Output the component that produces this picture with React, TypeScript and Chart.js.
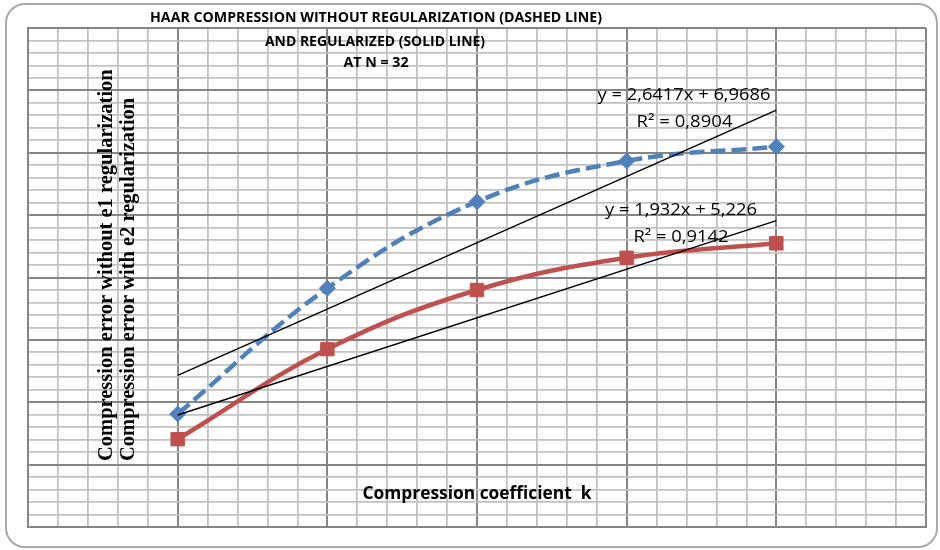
import React, { useEffect, useRef } from "react";
import { Chart, registerables } from "chart.js";

Chart.register(...registerables);

// ---- data ----
const kValues = [1, 2, 3, 4, 5];
const errorWithoutReg = [4.53, 9.57, 13.04, 14.67, 15.24];
const errorWithReg = [3.52, 7.13, 9.5, 10.79, 11.37];
const trendK = [1, 5];
const trendWithoutReg = [6.08, 16.71];
const trendWithReg = [4.49, 12.28];

const titleLines = [
  "HAAR COMPRESSION WITHOUT REGULARIZATION (DASHED LINE)",
  "AND REGULARIZED (SOLID LINE)",
  "AT N = 32",
];
const yTitleLines = [
  "Compression error without e1 regularization",
  "Compression error with e2 regularization",
];
const xTitle = "Compression coefficient  k";
const trendLabelsWithout = ["y = 2,6417x + 6,9686", "R² = 0,8904"];
const trendLabelsWith = ["y = 1,932x + 5,226", "R² = 0,9142"];

const xRange = [0, 6];
const xMinorStep = 0.2;
const xMajorStep = 1;
const yRange = [0, 20];
const yMinorStep = 0.5;
const yMajorStep = 2.5;

// ---- styles ----
const MAJOR = "#868686";
const MINOR = "#c2c2c2";
const BLUE = "#4f81bd";
const RED = "#c0504d";

const isMajor = (v: number, step: number) =>
  Math.abs(v / step - Math.round(v / step)) < 1e-6;

function fitText(
  ctx: CanvasRenderingContext2D,
  text: string,
  cx: number,
  baseline: number,
  font: string,
  width: number
) {
  ctx.save();
  ctx.font = font;
  const w = ctx.measureText(text).width;
  const s = width / w;
  ctx.translate(cx, baseline);
  ctx.scale(s, 1);
  ctx.textAlign = "center";
  ctx.textBaseline = "alphabetic";
  ctx.fillStyle = "#000";
  ctx.fillText(text, 0, 0);
  ctx.restore();
}

const textPlugin = {
  id: "texts",
  afterDraw(chart: any) {
    const ctx: CanvasRenderingContext2D = chart.ctx;
    const tFont = 'bold 15px "Open Sans"';
    fitText(ctx, titleLines[0], 376, 22, tFont, 452);
    fitText(ctx, titleLines[1], 375, 45.5, tFont, 220);
    fitText(ctx, titleLines[2], 376, 66.5, tFont, 65);

    const lFont = '16.5px "Open Sans"';
    fitText(ctx, trendLabelsWithout[0], 684, 100, lFont, 173);
    fitText(ctx, trendLabelsWithout[1], 684.5, 127, lFont, 96);
    fitText(ctx, trendLabelsWith[0], 681, 215, lFont, 152);
    fitText(ctx, trendLabelsWith[1], 681, 241.5, lFont, 95);

    fitText(ctx, xTitle, 477, 499, 'bold 18px "Open Sans"', 229);

    ctx.save();
    ctx.font = 'bold 20.5px "Liberation Serif"';
    ctx.fillStyle = "#000";
    ctx.textAlign = "left";
    ctx.textBaseline = "alphabetic";
    const baselines = [111.5, 133.5];
    yTitleLines.forEach((t, i) => {
      ctx.save();
      ctx.translate(baselines[i], 461);
      ctx.rotate(-Math.PI / 2);
      ctx.fillText(t, 0, 0);
      ctx.restore();
    });
    ctx.restore();
  },
};

export default function App() {
  const ref = useRef<HTMLCanvasElement>(null);

  useEffect(() => {
    const toPts = (xs: number[], ys: number[]) =>
      xs.map((x, i) => ({ x, y: ys[i] }));

    const chart = new Chart(ref.current!, {
      type: "line",
      data: {
        datasets: [
          {
            data: toPts(trendK, trendWithoutReg),
            borderColor: "#000",
            borderWidth: 1.4,
            pointRadius: 0,
            tension: 0,
          },
          {
            data: toPts(trendK, trendWithReg),
            borderColor: "#000",
            borderWidth: 1.4,
            pointRadius: 0,
            tension: 0,
          },
          {
            data: toPts(kValues, errorWithoutReg),
            borderColor: BLUE,
            borderWidth: 4.5,
            borderDash: [15, 6],
            pointStyle: "rectRot",
            pointRadius: 8,
            pointBackgroundColor: BLUE,
            pointBorderColor: BLUE,
            pointBorderWidth: 1,
            tension: 0.4,
          },
          {
            data: toPts(kValues, errorWithReg),
            borderColor: RED,
            borderWidth: 4.5,
            pointStyle: "rect",
            pointRadius: 9.5,
            pointBackgroundColor: RED,
            pointBorderColor: RED,
            pointBorderWidth: 1,
            tension: 0.4,
          },
        ],
      } as any,
      options: {
        responsive: false,
        animation: false,
        devicePixelRatio: 1,
        layout: { padding: { left: 28, top: 28, right: 14, bottom: 23 } },
        plugins: {
          legend: { display: false },
          title: { display: false },
          tooltip: { enabled: false },
        },
        scales: {
          x: {
            type: "linear",
            min: xRange[0],
            max: xRange[1],
            ticks: { display: false, stepSize: xMinorStep },
            grid: {
              drawTicks: false,
              lineWidth: (c: any) =>
                c.tick && isMajor(c.tick.value, xMajorStep) ? 2 : 1.8,
              color: (c: any) =>
                c.tick && isMajor(c.tick.value, xMajorStep) ? MAJOR : MINOR,
            },
            border: { color: MAJOR, width: 2 },
          },
          y: {
            type: "linear",
            min: yRange[0],
            max: yRange[1],
            ticks: { display: false, stepSize: yMinorStep },
            grid: {
              drawTicks: false,
              lineWidth: (c: any) =>
                c.tick && isMajor(c.tick.value, yMajorStep) ? 2 : 1.8,
              color: (c: any) =>
                c.tick && isMajor(c.tick.value, yMajorStep) ? MAJOR : MINOR,
            },
            border: { color: MAJOR, width: 2 },
          },
        },
      } as any,
      plugins: [textPlugin],
    });
    return () => chart.destroy();
  }, []);

  return (
    <div
      style={{
        position: "absolute",
        left: 0,
        top: 0,
        width: 940,
        height: 550,
        background: "#fff",
      }}
    >
      <div
        style={{
          position: "absolute",
          left: 5,
          top: 3,
          width: 929,
          height: 541,
          border: "2px solid #a9a9a9",
          borderRadius: 20,
        }}
      />
      <canvas
        ref={ref}
        width={940}
        height={550}
        style={{ position: "absolute", left: 0, top: 0, width: 940, height: 550 }}
      />
    </div>
  );
}
